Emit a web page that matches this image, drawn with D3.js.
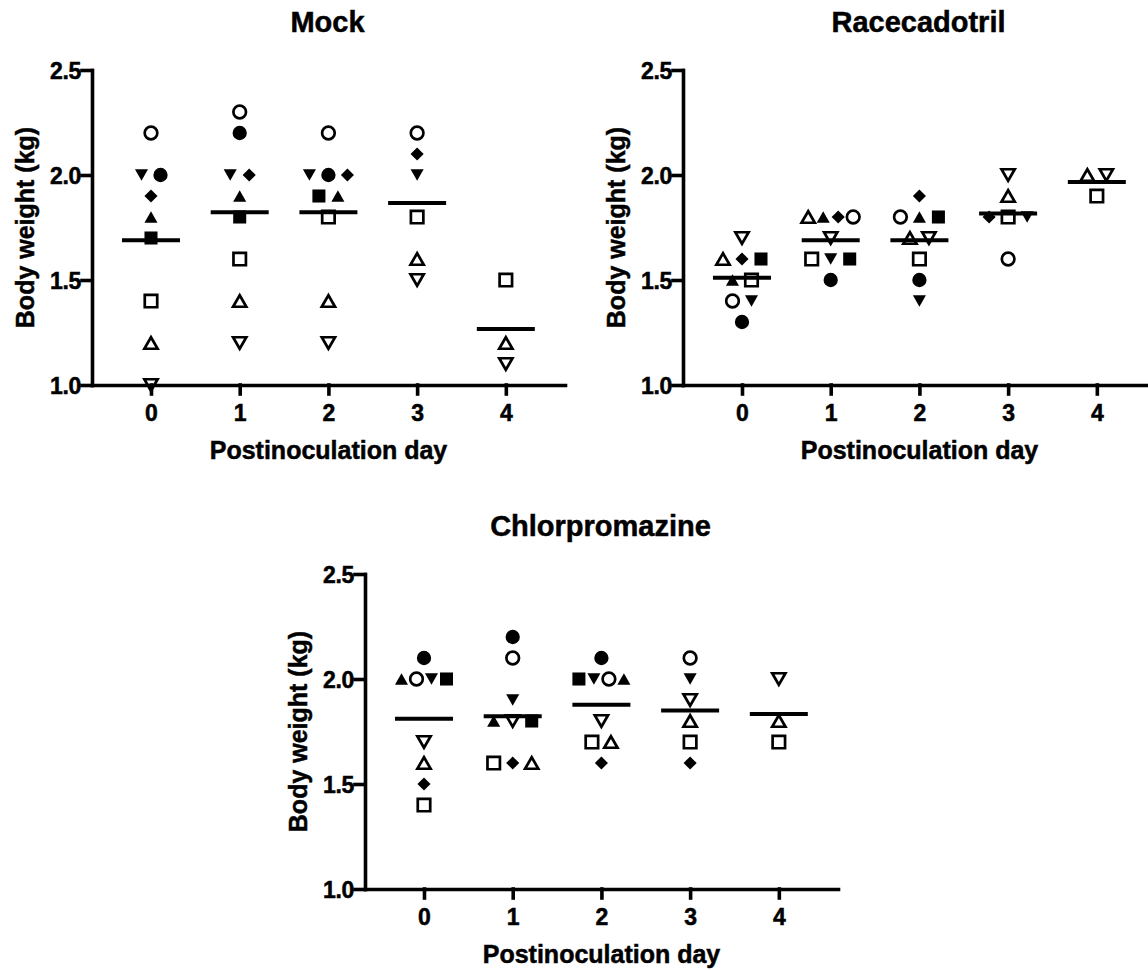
<!DOCTYPE html>
<html>
<head>
<meta charset="utf-8">
<script src="https://cdn.jsdelivr.net/npm/d3@7"></script>
<style>
  body { margin: 0; background: #fff; }
  svg text { font-family: "Liberation Sans", Arial, Helvetica, sans-serif; font-weight: bold; fill: #000; stroke: #000; stroke-width: 0.5px; }
</style>
</head>
<body>
<svg id="chart" width="1148" height="970"></svg>
<script>
const days = [0, 1, 2, 3, 4];
const yTicks = [1.0, 1.5, 2.0, 2.5];

// codici simbolo: c=cerchio s=quadrato u=triangolo su d=triangolo giu k=rombo ; o=vuoto f=pieno
// l'ordine dentro ogni giorno e' quello da sinistra a destra nelle righe con lo stesso valore
const mockSymbols = [
  ["co", "df", "cf", "kf", "uf", "sf", "so", "uo", "do"],
  ["co", "cf", "df", "kf", "uf", "sf", "so", "uo", "do"],
  ["co", "df", "cf", "kf", "sf", "uf", "so", "uo", "do"],
  ["co", "kf", "df", "so", "uo", "do"],
  ["so", "uo", "do"]
];
const mockValues = [
  [2.2, 2.0, 2.0, 1.9, 1.8, 1.7, 1.4, 1.2, 1.0],
  [2.3, 2.2, 2.0, 2.0, 1.9, 1.8, 1.6, 1.4, 1.2],
  [2.2, 2.0, 2.0, 2.0, 1.9, 1.9, 1.8, 1.4, 1.2],
  [2.2, 2.1, 2.0, 1.8, 1.6, 1.5],
  [1.5, 1.2, 1.1]
];

const raceSymbols = [
  ["do", "uo", "kf", "sf", "uf", "so", "co", "df", "cf"],
  ["uo", "uf", "kf", "co", "do", "so", "df", "sf", "cf"],
  ["kf", "co", "uf", "sf", "uo", "do", "so", "cf", "df"],
  ["do", "uo", "kf", "so", "df", "co"],
  ["uo", "do", "so"]
];
const raceValues = [
  [1.7, 1.6, 1.6, 1.6, 1.5, 1.5, 1.4, 1.4, 1.3],
  [1.8, 1.8, 1.8, 1.8, 1.7, 1.6, 1.6, 1.6, 1.5],
  [1.9, 1.8, 1.8, 1.8, 1.7, 1.7, 1.6, 1.5, 1.4],
  [2.0, 1.9, 1.8, 1.8, 1.8, 1.6],
  [2.0, 2.0, 1.9]
];

const chlorSymbols = [
  ["cf", "uf", "co", "df", "sf", "do", "uo", "kf", "so"],
  ["cf", "co", "df", "uf", "do", "sf", "so", "kf", "uo"],
  ["cf", "sf", "df", "co", "uf", "do", "so", "uo", "kf"],
  ["co", "df", "do", "uo", "so", "kf"],
  ["do", "uo", "so"]
];
const chlorValues = [
  [2.1, 2.0, 2.0, 2.0, 2.0, 1.7, 1.6, 1.5, 1.4],
  [2.2, 2.1, 1.9, 1.8, 1.8, 1.8, 1.6, 1.6, 1.6],
  [2.1, 2.0, 2.0, 2.0, 2.0, 1.8, 1.7, 1.7, 1.6],
  [2.1, 2.0, 1.9, 1.8, 1.7, 1.6],
  [2.0, 1.8, 1.7]
];

const panels = [
  { title: "Mock", symbols: mockSymbols, values: mockValues, left: 92, top: 70 },
  { title: "Racecadotril", symbols: raceSymbols, values: raceValues, left: 683, top: 70 },
  { title: "Chlorpromazine", symbols: chlorSymbols, values: chlorValues, left: 365, top: 574 }
];

const AXIS_W = 473, AXIS_H = 315;
const STROKE = 3.6;
const MEAN_W = 58;

const x = d3.scaleLinear().domain([-0.665, 4.667]).range([0, AXIS_W]);
const y = d3.scaleLinear().domain([1.0, 2.5]).range([AXIS_H, 0]);

const svg = d3.select("#chart");

function symbolAttrs(code) {
  const shape = code[0];
  const filled = code[1] === "f";
  let type, size, rotate = 0, dy = 0;
  if (shape === "c") { type = d3.symbolCircle; size = filled ? 160 : 125; }
  else if (shape === "s") { type = d3.symbolSquare; size = filled ? 170 : 155; }
  else if (shape === "k") { type = d3.symbolSquare; size = 86; rotate = 45; }
  else {
    type = d3.symbolTriangle; size = filled ? 74 : 76;
    const side = Math.sqrt(size * 4 / Math.sqrt(3));
    const h = side * Math.sqrt(3) / 2;
    //centro il riquadro del triangolo, non il baricentro
    if (shape === "u") { dy = h / 6; } else { rotate = 180; dy = -h / 6; }
  }
  return { path: d3.symbol().type(type).size(size)(), filled, rotate, dy };
}

panels.forEach(p => {
  const g = svg.append("g").attr("transform", `translate(${p.left},${p.top})`);

  // punti: righe con lo stesso valore vengono affiancate
  const points = [];
  days.forEach(day => {
    const vals = p.values[day];
    const syms = p.symbols[day];
    const rows = d3.group(vals.map((v, i) => ({ v, s: syms[i] })), d => d.v.toFixed(2));
    rows.forEach(row => {
      const n = row.length;
      const step = n >= 4 ? 15 : 19;
      row.forEach((d, j) => {
        points.push({ day, value: d.v, sym: d.s, off: (j - (n - 1) / 2) * step });
      });
    });
  });

  g.selectAll("path.pt")
    .data(points)
    .join("path")
    .attr("class", "pt")
    .each(function (d) {
      const a = symbolAttrs(d.sym);
      d3.select(this)
        .attr("d", a.path)
        .attr("transform", `translate(${x(d.day) + d.off},${y(d.value) + a.dy}) rotate(${a.rotate})`)
        .attr("fill", a.filled ? "#000" : "#fff")
        .attr("stroke", a.filled ? "none" : "#000")
        .attr("stroke-width", a.filled ? 0 : 2.7);
    });

  // media
  g.selectAll("line.mean")
    .data(days.map(day => ({ day, mean: d3.mean(p.values[day]) })))
    .join("line")
    .attr("class", "mean")
    .attr("x1", d => x(d.day) - MEAN_W / 2)
    .attr("x2", d => x(d.day) + MEAN_W / 2)
    .attr("y1", d => y(d.mean))
    .attr("y2", d => y(d.mean))
    .attr("stroke", "#000")
    .attr("stroke-width", 4);

  const xAxis = g.append("g")
    .attr("transform", `translate(0,${AXIS_H})`)
    .call(d3.axisBottom(x).tickValues(days).tickSize(9).tickSizeOuter(0).tickFormat(d3.format("d")));
  xAxis.selectAll("text").attr("y", 36).attr("dy", 0).style("font-size", "23px");

  const yAxis = g.append("g")
    .call(d3.axisLeft(y).tickValues(yTicks).tickSize(10).tickSizeOuter(0).tickFormat(d3.format(".1f")));
  yAxis.selectAll("text").attr("x", -11).attr("dy", "0.36em").style("font-size", "23px").style("letter-spacing", "-0.3px");

  g.selectAll(".domain, .tick line")
    .attr("stroke", "#000")
    .attr("stroke-width", STROKE)
    .attr("stroke-linecap", "square");

  g.append("text")
    .attr("x", AXIS_W / 2 - 1)
    .attr("y", -38)
    .attr("text-anchor", "middle")
    .style("font-size", "29px")
    .text(p.title);

  g.append("text")
    .attr("x", AXIS_W / 2)
    .attr("y", AXIS_H + 74)
    .attr("text-anchor", "middle")
    .style("font-size", "25px")
    .text("Postinoculation day");

  g.append("text")
    .attr("transform", `translate(-67,${AXIS_H / 2}) rotate(-90)`)
    .attr("text-anchor", "middle")
    .attr("dy", "0.35em")
    .style("font-size", "25px")
    .text("Body weight (kg)");
});
</script>
</body>
</html>
